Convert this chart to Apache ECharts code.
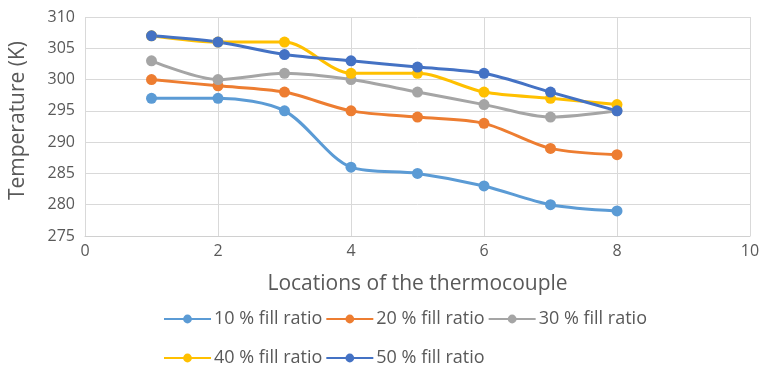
<!DOCTYPE html>
<html>
<head>
<meta charset="utf-8">
<script src="https://cdn.jsdelivr.net/npm/echarts@6/dist/echarts.min.js"></script>
<style>
  html, body { margin: 0; padding: 0; background: #fff; }
  #chart { width: 765px; height: 366px; }
</style>
</head>
<body>
<div id="chart"></div>
<script>
const locations = [1, 2, 3, 4, 5, 6, 7, 8];
const seriesNames = ['10 % fill ratio', '20 % fill ratio', '30 % fill ratio', '40 % fill ratio', '50 % fill ratio'];
const fill10 = [297, 297, 295, 286, 285, 283, 280, 279];
const fill20 = [300, 299, 298, 295, 294, 293, 289, 288];
const fill30 = [303, 300, 301, 300, 298, 296, 294, 295];
const fill40 = [307, 306, 306, 301, 301, 298, 297, 296];
const fill50 = [307, 306, 304, 303, 302, 301, 298, 295];
const seriesData = [fill10, fill20, fill30, fill40, fill50];
const colors = ['#5b9bd5', '#ed7d31', '#a5a5a5', '#ffc000', '#4472c4'];

const chart = echarts.init(document.getElementById('chart'));
const txt = '#595959';
const font = 'Open Sans';

const series = seriesNames.map((name, i) => ({
    name: name,
    type: 'line',
    smooth: 0.3,
    symbol: 'circle',
    symbolSize: 11,
    color: colors[i],
    lineStyle: { width: 3 },
    data: locations.map((x, j) => [x, seriesData[i][j]])
}));

const legendBase = {
    left: 163,
    padding: 0,
    itemWidth: 47,
    itemHeight: 11,
    itemGap: 3,
    textStyle: { color: txt, fontFamily: font, fontSize: 18, padding: [0, 0, 0, -2] }
};

chart.setOption({
    animation: false,
    grid: { left: 83, right: 15, top: 17, bottom: 130 },
    xAxis: {
        type: 'value',
        min: 0, max: 10, interval: 2,
        name: 'Locations of the thermocouple',
        nameLocation: 'middle',
        nameGap: 38,
        nameTextStyle: { color: txt, fontFamily: font, fontSize: 21 },
        axisLine: { lineStyle: { color: '#d0d0d0' } },
        axisTick: { show: false },
        axisLabel: { color: txt, fontFamily: font, fontSize: 16, margin: 7 },
        splitLine: { lineStyle: { color: '#d9d9d9' } }
    },
    yAxis: {
        type: 'value',
        min: 275, max: 310, interval: 5,
        name: 'Temperature (K)',
        nameLocation: 'middle',
        nameGap: 56,
        nameTextStyle: { color: txt, fontFamily: font, fontSize: 21, padding: [0, 0, 0, 12] },
        axisLine: { show: false },
        axisTick: { show: false },
        axisLabel: { color: txt, fontFamily: font, fontSize: 16, margin: 10 },
        splitLine: { lineStyle: { color: '#d9d9d9' } }
    },
    legend: [
        Object.assign({ top: 310, data: seriesNames.slice(0, 3) }, legendBase),
        Object.assign({ top: 349, data: seriesNames.slice(3) }, legendBase)
    ],
    series: series
});
</script>
</body>
</html>
